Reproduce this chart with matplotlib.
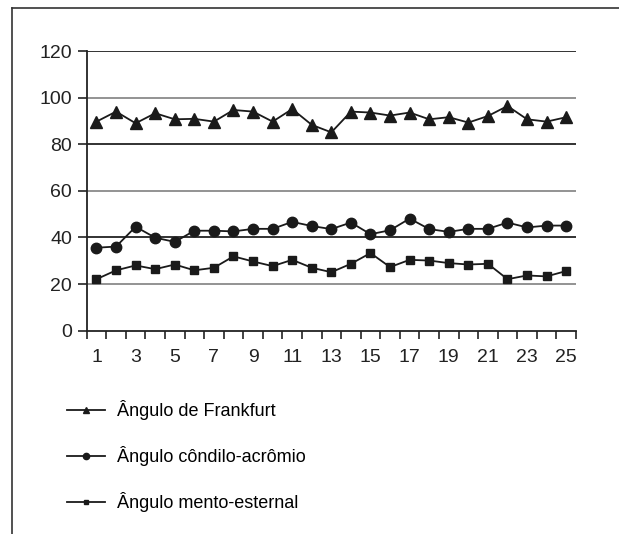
import matplotlib
matplotlib.use("Agg")
import matplotlib.pyplot as plt
from matplotlib.lines import Line2D
import numpy as np

plt.rcParams['font.family'] = ['Liberation Sans', 'DejaVu Sans']

subjects = list(range(1, 26))
frankfurt = [89.7, 94.0, 89.0, 93.3, 90.7, 90.9, 89.7, 94.7, 94.0, 89.7, 95.1, 88.3, 85.1,
             94.0, 93.6, 92.3, 93.6, 90.7, 91.6, 89.3, 92.1, 96.4, 90.7, 89.7, 91.6]
condilo = [35.6, 36.1, 44.6, 39.9, 38.1, 42.9, 42.9, 42.6, 43.7, 43.7, 46.7, 44.9, 43.6,
           46.4, 41.4, 43.1, 48.1, 43.6, 42.4, 43.7, 43.7, 46.4, 44.3, 45.1, 45.1]
mento = [22.1, 25.9, 28.0, 26.4, 28.4, 25.9, 27.0, 31.9, 29.7, 27.7, 30.4, 27.0, 25.1,
         28.7, 33.3, 27.3, 30.4, 30.1, 29.0, 28.4, 28.7, 22.1, 23.7, 23.3, 25.6]
labels = ["Ângulo de Frankfurt", "Ângulo côndilo-acrômio", "Ângulo mento-esternal"]
yticks = [0, 20, 40, 60, 80, 100, 120]

W, H = 619, 534
fig = plt.figure(figsize=(W / 100, H / 100), dpi=100)
ax = fig.add_axes([86.7 / W, 1 - 330.7 / H, (576 - 86.7) / W, (330.7 - 51) / H])

x = np.arange(len(subjects))
fs = 14
c = '#1a1a1a'
l1, = ax.plot(x, frankfurt, color=c, lw=1.3, marker='^', ms=8, mfc=c, mec=c)
l2, = ax.plot(x, condilo, color=c, lw=1.3, marker='o', ms=7.5, mfc=c, mec=c)
l3, = ax.plot(x, mento, color=c, lw=1.3, marker='s', ms=5.4, mfc=c, mec=c)

ax.set_xlim(-0.5, len(subjects) - 0.5)
ax.set_ylim(0, 120)
ax.set_yticks(yticks)
ax.set_yticklabels([str(v) for v in yticks], fontsize=fs, color='#222222')
for i, v in enumerate(yticks[1:]):
    ax.axhline(v, color='#222222' if i % 2 == 1 else '#8a8a8a', lw=1.3, zorder=0)

ax.set_xticks(np.arange(-0.5, len(subjects), 1))
ax.set_xticklabels([])
ax.set_xticks(x[::2], minor=True)
ax.set_xticklabels([str(s) for s in subjects[::2]], minor=True, fontsize=fs, color='#222222')
ax.tick_params(axis='x', which='major', direction='out', length=5.5, width=1.2, color='#222222')
ax.tick_params(axis='x', which='minor', length=0, pad=13)
ax.tick_params(axis='y', direction='out', length=6.5, width=1.2, color='#222222', pad=4)

for s in ['top', 'right']:
    ax.spines[s].set_visible(False)
for s in ['left', 'bottom']:
    ax.spines[s].set_color('#222222')
    ax.spines[s].set_linewidth(1.3)

fig.legend([l1, l2, l3], labels, loc='upper left', bbox_to_anchor=(67 / W, 1 - 400 / H),
           frameon=False, fontsize=13, markerscale=0.6, handlelength=2.1, handletextpad=0.65,
           labelspacing=1.45, borderpad=0, borderaxespad=0)

# outer frame
fig.add_artist(Line2D([12 / W, 12 / W], [0, 1 - 8 / H], color='#333333', lw=1.2, transform=fig.transFigure))
fig.add_artist(Line2D([12 / W, 1], [1 - 8 / H, 1 - 8 / H], color='#333333', lw=1.2, transform=fig.transFigure))

fig.savefig("out.png", dpi=100)
